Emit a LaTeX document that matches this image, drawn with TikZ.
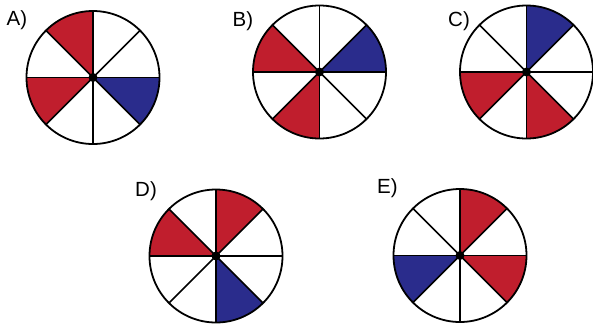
\documentclass[tikz,border=0pt]{standalone}
\usepackage{fontspec}
\setmainfont{Liberation Sans}
\definecolor{rd}{RGB}{192,30,45}
\definecolor{bl}{RGB}{42,44,140}
\tikzset{
  rim/.style={line width=1.8pt, draw=black},
  spoke/.style={line width=1.6pt, draw=black},
  lbl/.style={anchor=base west, inner sep=0pt, font=\fontsize{20.5}{21}\selectfont},
}
\newcommand\spinner[5]{%
  \coordinate (#1) at (#2,#3);
  \foreach \k in {#4} \fill[rd] (#1) -- ++(\k*45:66.5) arc[start angle=\k*45, end angle=\k*45+45, radius=66.5] -- cycle;
  \foreach \k in {#5} \fill[bl] (#1) -- ++(\k*45:66.5) arc[start angle=\k*45, end angle=\k*45+45, radius=66.5] -- cycle;
  \foreach \a in {0,45,...,315} \draw[spoke] (#1) -- ++(\a:66.5);
  \draw[rim] (#1) circle[radius=66.5];
  \fill (#1) circle[radius=4.5];
}
\begin{document}
\begin{tikzpicture}[x=1pt,y=1pt]
\useasboundingbox (0,0) rectangle (593,-325);
\spinner{A}{93}{-77.5}{2,4}{7}
\spinner{B}{319.5}{-72}{3,5}{0}
\spinner{C}{526.5}{-72}{4,6}{1}
\spinner{D}{216}{-256}{1,3}{6}
\spinner{E}{460}{-255.5}{1,7}{4}
\node[lbl] (lA) at (6.5,-25.5) {A)};
\node[lbl] (lB) at (232.5,-26) {B)};
\node[lbl] (lC) at (448,-26.5) {C)};
\node[lbl] (lD) at (135,-196) {D)};
\node[lbl] (lE) at (377,-193.3) {E)};
\end{tikzpicture}
\end{document}
